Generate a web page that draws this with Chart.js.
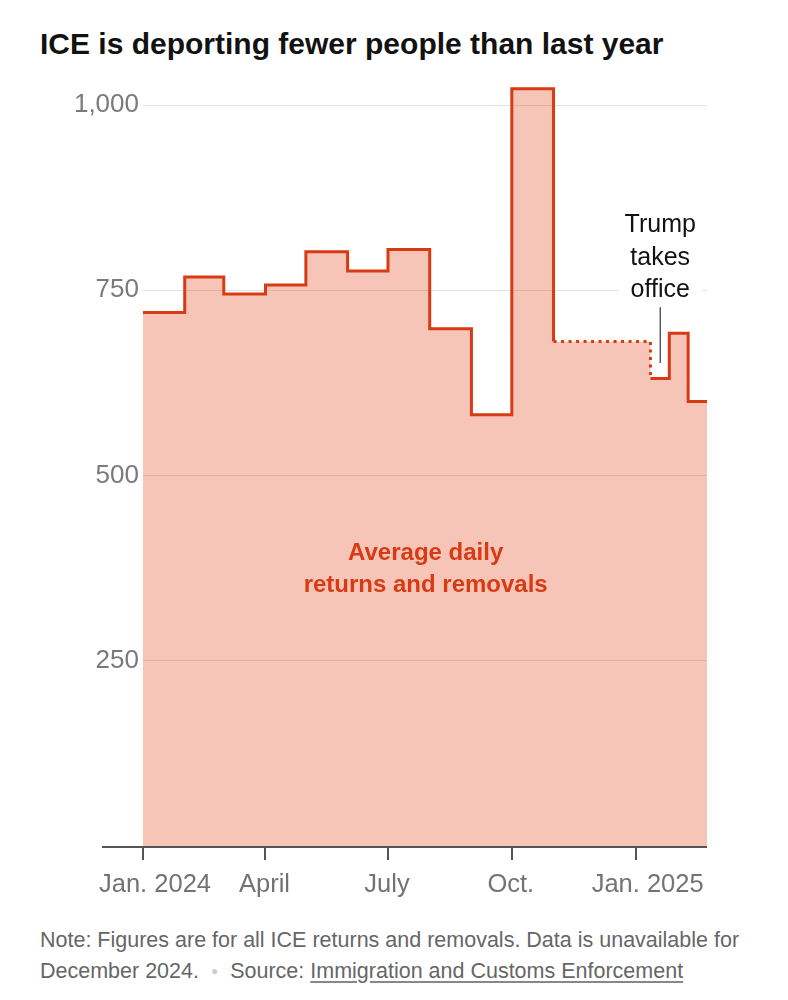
<!DOCTYPE html>
<html>
<head>
<meta charset="utf-8">
<script src="https://cdn.jsdelivr.net/npm/chart.js@4.4.1/dist/chart.umd.min.js"></script>
<style>
  html, body { margin: 0; padding: 0; background: #fff; }
  body { width: 788px; height: 1000px; position: relative; overflow: hidden; font-family: "Liberation Sans", Arial, sans-serif; }
  #title { position: absolute; left: 40px; top: 27px; margin: 0; font-size: 30px; font-weight: bold; color: #121212; }
  #wrap { position: absolute; left: 0; top: 0; width: 788px; height: 920px; }
  #note { position: absolute; left: 40px; top: 925px; width: 735px; font-size: 21.5px; line-height: 31px; color: #666; }
  #note .dot { color: #ccc; font-size: 12px; padding: 0 12px; vertical-align: 3px; }
  #note u { text-decoration-color: #888; text-underline-offset: 3px; }
</style>
</head>
<body>
<h1 id="title">ICE is deporting fewer people than last year</h1>
<div id="wrap"><canvas id="chart"></canvas></div>
<div id="note">Note: Figures are for all ICE returns and removals. Data is unavailable for December 2024.<span class="dot">●</span>Source: <u>Immigration and Customs Enforcement</u></div>
<script>
// average daily ICE returns and removals, one value per reporting period
const periodStarts = ['2024-01-01', '2024-02-01', '2024-03-01', '2024-04-01', '2024-05-01', '2024-06-01',
    '2024-07-01', '2024-08-01', '2024-09-01', '2024-10-01', '2024-11-01',
    '2025-01-12', '2025-01-26', '2025-02-09'];
const dailyAverage = [720, 768, 745, 757, 802, 776, 805, 698, 582, 1022, 681, 631, 692, 600];
const dataEnd = '2025-02-23';
const dottedFrom = '2024-11-01'; // no December data, line is dotted until the next period

const tickDates = ['2024-01-01', '2024-04-01', '2024-07-01', '2024-10-01', '2025-01-01'];
const tickLabels = ['Jan. 2024', 'April', 'July', 'Oct.', 'Jan. 2025'];
const yTicks = [250, 500, 750, 1000];

const inauguration = '2025-01-20';
const noteLines = ['Trump', 'takes', 'office'];
const seriesLabel = ['Average daily', 'returns and removals'];

const RED = '#d83b14';
const FONT = '"Liberation Sans", Arial, sans-serif';

function day(s) {
    const [y, m, d] = s.split('-').map(Number);
    return (Date.UTC(y, m - 1, d) - Date.UTC(2024, 0, 1)) / 86400000;
}

const points = periodStarts.map((s, i) => ({ x: day(s), y: dailyAverage[i] }));
points.push({ x: day(dataEnd), y: dailyAverage[dailyAverage.length - 1] });

const extras = {
    id: 'extras',
    afterDatasetsDraw(chart) {
        const ctx = chart.ctx;
        const area = chart.chartArea;
        const xs = chart.scales.x;
        const ys = chart.scales.y;
        ctx.save();

        // baseline axis, reaching out under the y labels
        ctx.strokeStyle = '#555';
        ctx.lineWidth = 2;
        ctx.beginPath();
        ctx.moveTo(102, area.bottom + 1);
        ctx.lineTo(area.right, area.bottom + 1);
        ctx.stroke();

        // x labels (year labels sit a bit right of their tick)
        ctx.font = '25.5px ' + FONT;
        ctx.fillStyle = '#737373';
        ctx.textAlign = 'center';
        ctx.textBaseline = 'middle';
        tickDates.forEach((d, i) => {
            const shift = /\d{4}/.test(tickLabels[i]) ? 12 : -1;
            ctx.fillText(tickLabels[i], xs.getPixelForValue(day(d)) + shift, area.bottom + 39);
        });

        // series label inside the area
        ctx.font = 'bold 24px ' + FONT;
        ctx.fillStyle = RED;
        const lx = xs.getPixelForValue(day('2024-07-29'));
        const ly = ys.getPixelForValue(374);
        ctx.fillText(seriesLabel[0], lx, ly - 16);
        ctx.fillText(seriesLabel[1], lx, ly + 16);

        // Trump takes office annotation
        const ax = xs.getPixelForValue(day(inauguration)) - 1;
        const top = ys.getPixelForValue(727);
        const bottom = ys.getPixelForValue(652);
        ctx.font = '25px ' + FONT;
        const w = Math.max(...noteLines.map(t => ctx.measureText(t).width));
        const lh = 32.5;
        const firstY = top - 17 - lh * (noteLines.length - 1);
        ctx.fillStyle = '#fff';
        ctx.fillRect(ax - w / 2 - 6, firstY - 19, w + 12, lh * noteLines.length + 6);
        ctx.fillStyle = '#121212';
        noteLines.forEach((t, i) => ctx.fillText(t, ax, firstY + i * lh));
        ctx.strokeStyle = '#333';
        ctx.lineWidth = 1.2;
        ctx.beginPath();
        ctx.moveTo(ax, top);
        ctx.lineTo(ax, bottom);
        ctx.stroke();

        ctx.restore();
    }
};

new Chart(document.getElementById('chart'), {
    type: 'line',
    data: {
        datasets: [{
            // outline, dotted across the missing month
            data: points,
            stepped: true,
            borderColor: RED,
            borderWidth: 3,
            fill: false,
            pointRadius: 0,
            segment: {
                borderDash: c => c.p0.parsed.x === day(dottedFrom) ? [3, 4.5] : undefined
            }
        }, {
            // shaded area under the whole line
            data: points,
            stepped: true,
            borderWidth: 0,
            borderColor: 'rgba(0,0,0,0)',
            fill: 'origin',
            backgroundColor: 'rgba(232, 80, 40, 0.33)',
            pointRadius: 0
        }]
    },
    options: {
        responsive: true,
        maintainAspectRatio: false,
        animation: false,
        layout: { padding: { left: 0, right: 81, top: 68, bottom: 0 } },
        plugins: { legend: { display: false }, tooltip: { enabled: false } },
        scales: {
            x: {
                type: 'linear',
                min: 0,
                max: day(dataEnd),
                afterBuildTicks: s => { s.ticks = tickDates.map(d => ({ value: day(d) })); },
                afterFit: s => { s.height = 74; },
                ticks: { display: false },
                grid: { drawOnChartArea: false, drawTicks: true, tickLength: 14, color: '#555', lineWidth: 2 },
                border: { display: false }
            },
            y: {
                min: 0,
                max: 1050,
                afterBuildTicks: s => { s.ticks = yTicks.map(v => ({ value: v })); },
                afterFit: s => { s.width = 143; },
                ticks: {
                    callback: v => v.toLocaleString('en-US'),
                    font: { family: FONT, size: 26 },
                    color: '#7a7a7a',
                    padding: 4
                },
                grid: { color: '#e2e2e2', lineWidth: 1, drawTicks: false },
                border: { display: false }
            }
        }
    },
    plugins: [extras]
});
</script>
</body>
</html>
